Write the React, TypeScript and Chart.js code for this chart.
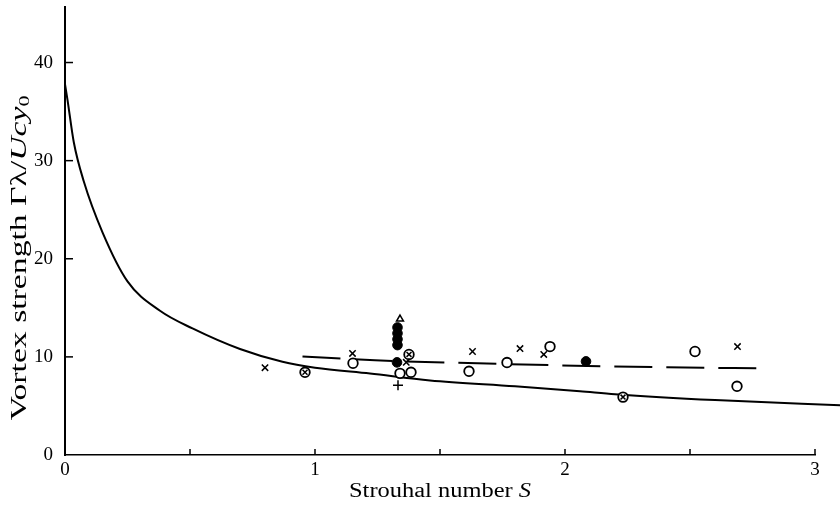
import { useEffect, useRef } from 'react';
import { Chart, registerables } from 'chart.js';

Chart.register(...registerables);

// Theoretical curve (solid)
const curveS = [0, 0.01, 0.035, 0.075, 0.15, 0.25, 0.38, 0.51, 0.7, 0.87, 1.0, 1.22, 1.46, 1.8, 2.06, 2.2, 2.6, 3.12];
const curveV = [37.8, 36.2, 31.9, 27.9, 22.7, 17.7, 14.7, 12.9, 10.8, 9.5, 8.9, 8.3, 7.6, 7.0, 6.5, 6.2, 5.6, 5.05];

// Mean line (dashed)
const dashS = [0.95, 1.24, 1.65, 1.96, 2.35, 2.82];
const dashV = [10.05, 9.65, 9.35, 9.15, 8.96, 8.82];

// Experimental points
const crossS = [0.8, 1.15, 1.365, 1.63, 1.82, 1.915, 2.69];
const crossV = [8.9, 10.35, 9.45, 10.55, 10.85, 10.25, 11.05];

const plusS = [1.332];
const plusV = [7.1];

const openS = [1.152, 1.34, 1.384, 1.616, 1.768, 1.94, 2.52, 2.688];
const openV = [9.35, 8.32, 8.43, 8.53, 9.42, 11.05, 10.55, 7.0];

const crossedS = [0.96, 1.376, 2.232];
const crossedV = [8.43, 10.25, 5.9];

const filledS = [1.328, 2.084, 1.33, 1.33, 1.33, 1.33];
const filledV = [9.44, 9.54, 11.2, 11.8, 12.4, 13.0];

const triS = [1.34];
const triV = [13.85];

const xTickValues = [0, 0.5, 1, 1.5, 2, 2.5, 3];
const xLabelValues = [0, 1, 2, 3];
const yTickValues = [0, 10, 20, 30, 40];

const pts = (xs: number[], ys: number[]) => xs.map((x, i) => ({ x, y: ys[i] }));

const SERIF = '"Liberation Serif", "DejaVu Serif", serif';

function drawSegs(ctx: any, segs: [string, string, number][], cx: number, cy: number, target: number) {
  let total = 0;
  segs.forEach(([t, f]) => { ctx.font = f; total += ctx.measureText(t).width; });
  const k = target / total;
  ctx.save();
  ctx.translate(cx, cy);
  ctx.scale(k, 1);
  let x = -total / 2;
  segs.forEach(([t, f, dy]) => {
    ctx.font = f;
    ctx.textAlign = 'left';
    ctx.fillText(t, x, dy);
    x += ctx.measureText(t).width;
  });
  ctx.restore();
}

const decor = {
  id: 'decor',
  afterDraw(chart: any) {
    const { ctx, chartArea, scales } = chart;
    const xs = scales.x;
    const ys = scales.y;
    ctx.save();
    ctx.strokeStyle = '#000';
    ctx.lineWidth = 1.5;
    xTickValues.forEach((v) => {
      const px = xs.getPixelForValue(v);
      ctx.beginPath();
      ctx.moveTo(px, chartArea.bottom);
      ctx.lineTo(px, chartArea.bottom - 6);
      ctx.stroke();
    });
    yTickValues.forEach((v) => {
      if (v === 0) return;
      const py = ys.getPixelForValue(v);
      ctx.beginPath();
      ctx.moveTo(chartArea.left, py);
      ctx.lineTo(chartArea.left + 8, py);
      ctx.stroke();
    });

    ctx.fillStyle = '#000';
    ctx.textBaseline = 'middle';
    drawSegs(ctx, [
      ['Strouhal number ', `20px ${SERIF}`, 0],
      ['S', `italic 20px ${SERIF}`, 0],
    ], 440, 492, 182);

    ctx.save();
    ctx.translate(20, 258);
    ctx.rotate(-Math.PI / 2);
    drawSegs(ctx, [
      ['Vortex strength Γλ/', `23px ${SERIF}`, 0],
      ['Ucy', `italic 23px ${SERIF}`, 0],
      ['0', `15px ${SERIF}`, 5],
    ], 0, 0, 325);
    ctx.restore();
    ctx.restore();
  },
};

export default function App() {
  const ref = useRef<HTMLCanvasElement | null>(null);
  useEffect(() => {
    if (!ref.current) return;
    const chart = new Chart(ref.current, {
      type: 'scatter',
      data: {
        datasets: [
          {
            label: 'theory',
            data: pts(curveS, curveV),
            showLine: true,
            borderColor: '#000',
            borderWidth: 2,
            pointRadius: 0,
            cubicInterpolationMode: 'monotone',
            clip: false,
            order: 10,
          } as any,
          {
            label: 'mean',
            data: pts(dashS, dashV),
            showLine: true,
            borderColor: '#000',
            borderWidth: 2,
            borderDash: [38, 14],
            pointRadius: 0,
            cubicInterpolationMode: 'monotone',
            order: 10,
          } as any,
          {
            label: 'cross',
            data: pts(crossS, crossV),
            pointStyle: 'crossRot',
            pointRadius: 4.5,
            borderColor: '#000',
            borderWidth: 1.5,
            order: 1,
          },
          {
            label: 'plus',
            data: pts(plusS, plusV),
            pointStyle: 'cross',
            pointRadius: 5,
            borderColor: '#000',
            borderWidth: 1.5,
            order: 1,
          },
          {
            label: 'open',
            data: pts(openS, openV),
            pointStyle: 'circle',
            pointRadius: 4.8,
            backgroundColor: '#fff',
            borderColor: '#000',
            borderWidth: 1.8,
            order: 2,
          },
          {
            label: 'crossed',
            data: pts(crossedS, crossedV),
            pointStyle: 'circle',
            pointRadius: 4.8,
            backgroundColor: '#fff',
            borderColor: '#000',
            borderWidth: 1.8,
            order: 2,
          },
          {
            label: 'crossed-x',
            data: pts(crossedS, crossedV),
            pointStyle: 'crossRot',
            pointRadius: 3.5,
            borderColor: '#000',
            borderWidth: 1.5,
            order: 0,
          },
          {
            label: 'filled',
            data: pts(filledS, filledV),
            pointStyle: 'circle',
            pointRadius: 4.8,
            backgroundColor: '#000',
            borderColor: '#000',
            borderWidth: 1,
            order: 1,
          },
          {
            label: 'triangle',
            data: pts(triS, triV),
            pointStyle: 'triangle',
            pointRadius: 4,
            backgroundColor: '#fff',
            borderColor: '#000',
            borderWidth: 1.5,
            order: 0,
          },
        ],
      },
      options: {
        responsive: false,
        animation: false,
        events: [],
        layout: { padding: { left: 0, top: 5, right: 25, bottom: 0 } },
        plugins: { legend: { display: false }, tooltip: { enabled: false } },
        scales: {
          x: {
            type: 'linear',
            min: 0,
            max: 3,
            grid: { display: false, drawTicks: false },
            border: { display: true, color: '#000', width: 1.5 },
            afterBuildTicks: (s: any) => { s.ticks = xTickValues.map((v) => ({ value: v })); },
            afterFit: (s: any) => { s.height = 516 - 455; s.paddingLeft = 0; s.paddingRight = 0; },
            ticks: {
              color: '#000',
              padding: 4,
              maxRotation: 0,
              autoSkip: false,
              font: { family: SERIF, size: 19 },
              callback: (v: any) => (xLabelValues.includes(Number(v)) ? String(v) : ''),
            },
          },
          y: {
            type: 'linear',
            min: 0,
            max: 45.7,
            grid: { display: false, drawTicks: false },
            border: { display: true, color: '#000', width: 2 },
            afterBuildTicks: (s: any) => { s.ticks = yTickValues.map((v) => ({ value: v })); },
            afterFit: (s: any) => { s.width = 65; s.paddingTop = 0; s.paddingBottom = 0; },
            ticks: {
              color: '#000',
              padding: 12,
              autoSkip: false,
              font: { family: SERIF, size: 19 },
              callback: (v: any) => String(v),
            },
          },
        },
      },
      plugins: [decor],
    } as any);
    return () => chart.destroy();
  }, []);
  return (
    <div style={{ position: 'fixed', left: 0, top: 0, width: 840, height: 516, background: '#fff' }}>
      <canvas ref={ref} width={840} height={516} />
    </div>
  );
}
